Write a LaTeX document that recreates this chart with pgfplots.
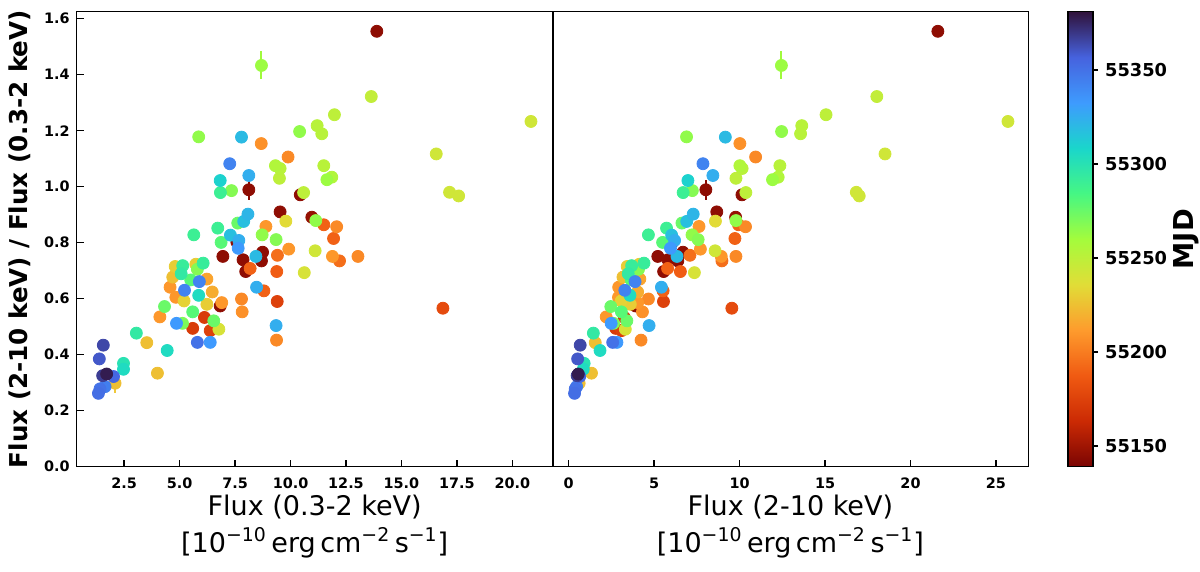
\documentclass[border=0pt]{standalone}
\usepackage{fontspec}
\setmainfont{DejaVu Sans}
\usepackage{pgfplots}
\pgfplotsset{compat=1.18}
\pgfplotsset{colorbar/width=12.5pt}
\pgfplotsset{
  colormap={turbor}{rgb255=(122,4,3) rgb255=(203,42,4) rgb255=(240,90,18) rgb255=(254,155,45) rgb255=(225,221,55) rgb255=(164,252,60) rgb255=(70,247,131) rgb255=(26,214,203) rgb255=(62,155,254) rgb255=(70,98,222) rgb255=(48,18,59)},
  mystyle/.style={
    scale only axis, width=238pt, height=227.5pt,
    ymin=0, ymax=1.625,
    axis line style={line width=0.8pt},
    tick align=inside, major tick length=3.5pt,
    tick style={line width=0.8pt, black},
    xtick pos=left, ytick pos=left,
    tick label style={font=\fontsize{7.2}{8.6}\selectfont\bfseries},
    xticklabel style={yshift=-1.9pt},
    /pgf/number format/assume math mode=true,
    colormap name=turbor, point meta min=55139, point meta max=55381,
    every axis x label/.style={at={(axis description cs:0.5,0)}, anchor=north, yshift=-14pt, align=center, inner sep=0pt, font=\fontsize{13.5}{18.3}\selectfont},
  },
  mymarks/.style={scatter, only marks, mark=*, mark size=3pt, point meta=explicit,
    scatter/use mapped color={draw=mapped color, fill=mapped color}},
  myerr/.style={only marks, mark=none, forget plot, error bars/.cd, y dir=both, y explicit, error mark=none,
    error bar style={color=#1, line width=1pt, solid}},
}
\definecolor{elime}{RGB}{160,250,60}
\definecolor{edred}{RGB}{140,10,3}
\definecolor{eyel}{RGB}{240,200,58}
\definecolor{edblue}{RGB}{62,58,150}
\definecolor{eteal}{RGB}{30,225,180}

\pgfplotstableread{
x y c
13.89 1.555 55145
8.12 0.989 55145
10.44 0.971 55145
9.53 0.910 55145
7.58 0.802 55145
6.95 0.751 55145
7.86 0.739 55145
8.74 0.766 55145
8.69 0.735 55145
7.98 0.697 55145
6.83 0.574 55145
10.96 0.891 55147
5.59 0.494 55172
6.12 0.533 55172
6.38 0.486 55175
9.40 0.590 55175
16.87 0.566 55180
9.38 0.697 55188
11.50 0.864 55190
11.94 0.815 55190
8.18 0.708 55190
8.80 0.628 55190
9.41 0.755 55195
12.21 0.735 55195
9.89 1.106 55205
12.08 0.857 55205
13.04 0.751 55205
7.79 0.599 55205
9.37 0.452 55205
8.68 1.154 55208
7.82 0.553 55208
9.92 0.777 55210
11.89 0.751 55210
8.89 0.858 55210
6.90 0.586 55210
4.57 0.641 55210
4.83 0.605 55210
4.11 0.535 55210
6.23 0.670 55215
6.47 0.624 55218
4.69 0.677 55225
3.52 0.443 55225
4.00 0.334 55225
2.09 0.298 55225
6.23 0.580 55230
5.73 0.723 55230
4.80 0.715 55230
5.20 0.592 55232
9.79 0.877 55235
10.62 0.693 55240
6.77 0.491 55240
20.84 1.233 55243
16.57 1.117 55243
17.17 0.980 55243
17.58 0.967 55243
11.11 0.771 55243
13.64 1.322 55248
11.98 1.257 55250
9.50 1.030 55250
10.59 0.979 55250
11.20 1.218 55252
11.41 1.189 55252
9.53 1.065 55252
11.50 1.075 55252
9.32 1.075 55255
11.86 1.034 55255
8.69 1.433 55262
11.64 1.025 55262
5.86 1.178 55265
10.41 1.197 55265
11.14 0.879 55265
8.72 0.828 55265
7.34 0.986 55268
9.35 0.811 55268
5.80 0.705 55268
5.13 0.512 55270
7.62 0.870 55275
4.32 0.572 55275
6.54 0.521 55275
6.87 0.801 55280
5.50 0.667 55280
5.59 0.553 55280
6.84 0.979 55290
6.72 0.852 55290
5.64 0.828 55290
6.06 0.727 55292
5.14 0.718 55292
5.07 0.689 55295
3.05 0.477 55295
2.47 0.369 55300
2.47 0.348 55305
5.86 0.612 55305
4.44 0.415 55305
6.83 1.022 55310
7.89 0.876 55318
7.29 0.827 55318
7.79 1.177 55320
8.44 0.751 55320
8.08 0.902 55322
8.12 1.040 55325
7.67 0.808 55325
8.47 0.641 55325
9.35 0.504 55325
7.64 0.780 55333
4.86 0.512 55333
6.38 0.444 55333
7.26 1.082 55343
5.89 0.661 55343
5.22 0.630 55343
1.64 0.286 55345
5.80 0.444 55350
1.41 0.278 55350
1.34 0.262 55352
2.02 0.322 55355
1.38 0.385 55360
1.56 0.434 55365
1.53 0.325 55368
1.71 0.331 55378
}\softtab

\pgfplotstableread{
x y c
21.60 1.555 55145
8.03 0.989 55145
10.14 0.971 55145
8.67 0.910 55145
6.08 0.802 55145
5.22 0.751 55145
5.81 0.739 55145
6.69 0.766 55145
6.39 0.735 55145
5.56 0.697 55145
3.92 0.574 55145
9.77 0.891 55147
2.76 0.494 55172
3.26 0.533 55172
3.10 0.486 55175
5.55 0.590 55175
9.55 0.566 55180
6.54 0.697 55188
9.94 0.864 55190
9.73 0.815 55190
5.79 0.708 55190
5.53 0.628 55190
7.10 0.755 55195
8.97 0.735 55195
10.94 1.106 55205
10.35 0.857 55205
9.79 0.751 55205
4.67 0.599 55205
4.24 0.452 55205
10.02 1.154 55208
4.32 0.553 55208
7.71 0.777 55210
8.93 0.751 55210
7.63 0.858 55210
4.04 0.586 55210
2.93 0.641 55210
2.92 0.605 55210
2.20 0.535 55210
4.17 0.670 55215
4.04 0.624 55218
3.18 0.677 55225
1.56 0.443 55225
1.34 0.334 55225
0.62 0.298 55225
3.61 0.580 55230
4.14 0.723 55230
3.43 0.715 55230
3.08 0.592 55232
8.59 0.877 55235
7.36 0.693 55240
3.32 0.491 55240
25.70 1.233 55243
18.51 1.117 55243
16.83 0.980 55243
17.00 0.967 55243
8.57 0.771 55243
18.03 1.322 55248
15.06 1.257 55250
9.79 1.030 55250
10.37 0.979 55250
13.64 1.218 55252
13.57 1.189 55252
10.15 1.065 55252
12.36 1.075 55252
10.02 1.075 55255
12.26 1.034 55255
12.45 1.433 55262
11.93 1.025 55262
6.90 1.178 55265
12.46 1.197 55265
9.79 0.879 55265
7.22 0.828 55265
7.24 0.986 55268
7.58 0.811 55268
4.09 0.705 55268
2.63 0.512 55270
6.63 0.870 55275
2.47 0.572 55275
3.41 0.521 55275
5.50 0.801 55280
3.67 0.667 55280
3.09 0.553 55280
6.70 0.979 55290
5.73 0.852 55290
4.67 0.828 55290
4.41 0.727 55292
3.69 0.718 55292
3.49 0.689 55295
1.45 0.477 55295
0.91 0.369 55300
0.86 0.348 55305
3.59 0.612 55305
1.84 0.415 55305
6.98 1.022 55310
6.91 0.876 55318
6.03 0.827 55318
9.17 1.177 55320
6.34 0.751 55320
7.29 0.902 55322
8.44 1.040 55325
6.20 0.808 55325
5.43 0.641 55325
4.71 0.504 55325
5.96 0.780 55333
2.49 0.512 55333
2.83 0.444 55333
7.86 1.082 55343
3.89 0.661 55343
3.29 0.630 55343
0.47 0.286 55345
2.58 0.444 55350
0.39 0.278 55350
0.35 0.262 55352
0.65 0.322 55355
0.53 0.385 55360
0.68 0.434 55365
0.50 0.325 55368
0.57 0.331 55378
}\hardtab

\begin{document}
\begin{tikzpicture}
\useasboundingbox (0,0) rectangle (600pt,286pt);
\begin{axis}[mystyle, at={(38.35pt,52.65pt)}, anchor=south west,
  xmin=0.36, xmax=21.82,
  xtick={2.5,5,7.5,10,12.5,15,17.5,20},
  xticklabel style={/pgf/number format/.cd, fixed, fixed zerofill, precision=1},
  ytick={0,0.2,0.4,0.6,0.8,1.0,1.2,1.4,1.6},
  yticklabel style={/pgf/number format/.cd, fixed, fixed zerofill, precision=1},
  xlabel={Flux (0.3-2 keV)\\{[}10\textsuperscript{−10}\,erg\,cm\textsuperscript{−2}\,s\textsuperscript{−1}{]}},
  ylabel={Flux (2-10 keV) / Flux (0.3-2 keV)},
  every axis y label/.style={at={(axis description cs:-0.1191,0.5)}, rotate=90, anchor=center, inner sep=0pt, font=\fontsize{12.3}{14}\selectfont\bfseries},
]
\addplot[myerr=elime] coordinates {(8.69,1.433) +- (0,0.05)};
\addplot[myerr=edred] coordinates {(8.12,0.989) +- (0,0.036) (7.58,0.802) +- (0,0.02)};
\addplot[myerr=eyel] coordinates {(2.09,0.298) +- (0,0.035)};
\addplot[myerr=edblue] coordinates {(1.56,0.434) +- (0,0.018)};
\addplot[myerr=eteal] coordinates {(2.47,0.369) +- (0,0.02)};
\addplot[mymarks] table[x=x, y=y, meta=c] {\softtab};
\end{axis}
\begin{axis}[mystyle, at={(276.25pt,52.65pt)}, anchor=south west, width=237.9pt,
  xmin=-0.94, xmax=26.89,
  xtick={0,5,10,15,20,25},
  ytick=\empty,
  xlabel={Flux (2-10 keV)\\{[}10\textsuperscript{−10}\,erg\,cm\textsuperscript{−2}\,s\textsuperscript{−1}{]}},
  colorbar/width=12.5pt,
  colorbar,
  colorbar style={
    at={(parent axis.north east)}, anchor=north west, xshift=11.35pt,
    /pgfplots/colorbar/width=12.5pt,
    width=12.5pt, height=227.5pt, scale only axis,
    ytick={55150,55200,55250,55300,55350},
    scaled y ticks=false,
    yticklabel pos=right, ytick pos=right,
    tick align=outside, major tick length=2.5pt,
    tick style={line width=0.6pt, black},
    axis line style={line width=0.6pt},
    yticklabel style={font=\fontsize{8.9}{10}\selectfont\bfseries, /pgf/number format/.cd, fixed, precision=0, 1000 sep={}},
    /pgf/number format/assume math mode=true,
    ylabel={MJD},
    every axis y label/.style={at={(axis description cs:1,0.5)}, xshift=46.5pt, rotate=90, anchor=center, inner sep=0pt, font=\fontsize{13.7}{16}\selectfont\bfseries},
  },
]
\addplot[myerr=elime] coordinates {(12.45,1.433) +- (0,0.05)};
\addplot[myerr=edred] coordinates {(8.03,0.989) +- (0,0.036) (6.08,0.802) +- (0,0.02)};
\addplot[myerr=eyel] coordinates {(0.62,0.298) +- (0,0.035)};
\addplot[myerr=edblue] coordinates {(0.68,0.434) +- (0,0.018)};
\addplot[myerr=eteal] coordinates {(0.91,0.369) +- (0,0.02)};
\addplot[mymarks] table[x=x, y=y, meta=c] {\hardtab};
\end{axis}
\end{tikzpicture}
\end{document}
